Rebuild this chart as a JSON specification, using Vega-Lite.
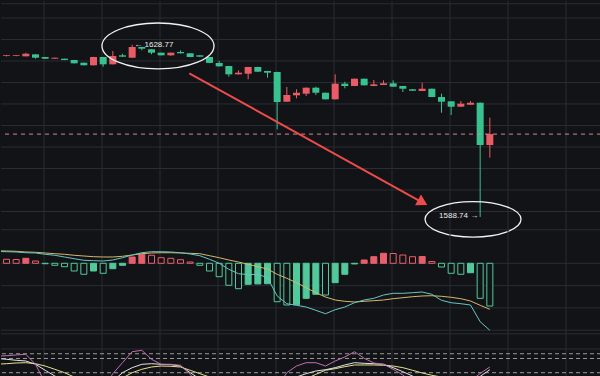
{
  "$schema": "https://vega.github.io/schema/vega-lite/v6.json",
  "background": "#121317",
  "padding": 0,
  "spacing": 0,
  "bounds": "flush",
  "config": {
    "view": {"stroke": null}
  },
  "datasets": {
    "k": [
      {"i":-1,"o":1626.20,"h":1626.40,"l":1626.00,"c":1626.30,"m":0.19,"dif":0.530,"dea":0.560,"k":80.0,"d":68.0,"j":85.0},
      {"i":0,"o":1626.16,"h":1626.40,"l":1626.05,"c":1626.32,"m":0.179,"dif":0.520,"dea":0.552,"k":78.3,"d":69.0,"j":85.9},
      {"i":1,"o":1626.16,"h":1626.35,"l":1626.10,"c":1626.32,"m":0.170,"dif":0.507,"dea":0.538,"k":76.2,"d":70.5,"j":87.4},
      {"i":2,"o":1626.09,"h":1626.93,"l":1626.05,"c":1626.69,"m":0.224,"dif":0.475,"dea":0.507,"k":74.7,"d":71.1,"j":88.8},
      {"i":3,"o":1626.55,"h":1626.60,"l":1625.53,"c":1625.76,"m":0.103,"dif":0.462,"dea":0.493,"k":67.7,"d":69.0,"j":67.7},
      {"i":4,"o":1625.93,"h":1625.95,"l":1625.50,"c":1625.53,"m":-0.020,"dif":0.404,"dea":0.462,"k":55.1,"d":64.1,"j":28.3},
      {"i":5,"o":1625.53,"h":1625.80,"l":1625.50,"c":1625.76,"m":-0.090,"dif":0.359,"dea":0.430,"k":43.0,"d":57.2,"j":7.2},
      {"i":6,"o":1625.53,"h":1625.55,"l":1625.20,"c":1625.23,"m":-0.152,"dif":0.283,"dea":0.404,"k":32.5,"d":50.0,"j":-5.5},
      {"i":7,"o":1625.23,"h":1625.25,"l":1624.43,"c":1624.46,"m":-0.345,"dif":0.206,"dea":0.359,"k":24.1,"d":40.9,"j":-9.7},
      {"i":8,"o":1624.60,"h":1624.62,"l":1623.97,"c":1624.00,"m":-0.493,"dif":0.135,"dea":0.327,"k":19.8,"d":32.5,"j":-13.9},
      {"i":9,"o":1624.00,"h":1625.95,"l":1623.97,"c":1625.93,"m":-0.345,"dif":0.117,"dea":0.296,"k":19.8,"d":28.3,"j":-5.5},
      {"i":10,"o":1625.93,"h":1625.95,"l":1623.67,"c":1624.23,"m":-0.448,"dif":0.103,"dea":0.283,"k":24.1,"d":26.2,"j":15.6},
      {"i":11,"o":1624.23,"h":1627.32,"l":1624.20,"c":1626.16,"m":-0.242,"dif":0.148,"dea":0.283,"k":32.5,"d":30.4,"j":47.9},
      {"i":12,"o":1626.32,"h":1626.69,"l":1625.97,"c":1626.00,"m":-0.090,"dif":0.251,"dea":0.314,"k":50.0,"d":38.8,"j":71.1},
      {"i":13,"o":1625.76,"h":1628.77,"l":1625.73,"c":1628.25,"m":0.283,"dif":0.372,"dea":0.372,"k":60.6,"d":50.0,"j":94.3},
      {"i":14,"o":1628.25,"h":1628.30,"l":1627.48,"c":1627.86,"m":0.404,"dif":0.475,"dea":0.430,"k":67.7,"d":57.2,"j":97.3},
      {"i":15,"o":1627.72,"h":1627.75,"l":1626.55,"c":1626.93,"m":0.359,"dif":0.520,"dea":0.462,"k":69.0,"d":62.0,"j":78.3},
      {"i":16,"o":1626.93,"h":1626.95,"l":1626.30,"c":1626.32,"m":0.251,"dif":0.520,"dea":0.475,"k":67.7,"d":64.1,"j":67.7},
      {"i":17,"o":1626.32,"h":1626.95,"l":1626.20,"c":1626.93,"m":0.224,"dif":0.507,"dea":0.475,"k":66.9,"d":63.5,"j":67.7},
      {"i":18,"o":1627.09,"h":1627.48,"l":1626.75,"c":1626.79,"m":0.161,"dif":0.475,"dea":0.462,"k":64.1,"d":62.0,"j":65.6},
      {"i":19,"o":1626.79,"h":1626.80,"l":1625.90,"c":1625.93,"m":0.058,"dif":0.417,"dea":0.448,"k":50.0,"d":55.1,"j":46.6},
      {"i":20,"o":1626.32,"h":1626.35,"l":1625.95,"c":1626.00,"m":-0.090,"dif":0.341,"dea":0.430,"k":36.7,"d":47.9,"j":21.9},
      {"i":21,"o":1625.93,"h":1625.95,"l":1624.50,"c":1624.55,"m":-0.345,"dif":0.179,"dea":0.341,"k":24.1,"d":40.9,"j":0.8},
      {"i":22,"o":1624.53,"h":1625.00,"l":1623.70,"c":1623.76,"m":-0.601,"dif":0.000,"dea":0.251,"k":13.5,"d":32.5,"j":-13.9},
      {"i":23,"o":1623.83,"h":1623.85,"l":1621.35,"c":1621.90,"m":-0.987,"dif":-0.269,"dea":0.148,"k":7.2,"d":24.1,"j":-20.3},
      {"i":24,"o":1621.90,"h":1622.83,"l":1621.85,"c":1622.28,"m":-1.139,"dif":-0.466,"dea":0.058,"k":5.1,"d":17.7,"j":-18.1},
      {"i":25,"o":1622.04,"h":1623.65,"l":1620.74,"c":1623.60,"m":-0.942,"dif":-0.511,"dea":-0.045,"k":7.2,"d":15.6,"j":-9.7},
      {"i":26,"o":1623.60,"h":1623.65,"l":1622.45,"c":1622.51,"m":-0.925,"dif":-0.493,"dea":-0.152,"k":11.4,"d":15.6,"j":-1.3},
      {"i":27,"o":1622.67,"h":1622.70,"l":1621.11,"c":1622.28,"m":-0.915,"dif":-0.646,"dea":-0.256,"k":15.6,"d":15.6,"j":7.2},
      {"i":28,"o":1622.44,"h":1622.50,"l":1609.11,"c":1615.46,"m":-1.722,"dif":-1.466,"dea":-0.493,"k":19.8,"d":17.7,"j":19.8},
      {"i":29,"o":1615.53,"h":1618.95,"l":1615.50,"c":1617.09,"m":-1.870,"dif":-1.812,"dea":-0.673,"k":32.5,"d":21.9,"j":50.0},
      {"i":30,"o":1617.02,"h":1618.42,"l":1616.32,"c":1617.62,"m":-1.861,"dif":-1.883,"dea":-0.870,"k":40.9,"d":28.3,"j":64.1},
      {"i":31,"o":1617.39,"h":1618.85,"l":1616.86,"c":1618.79,"m":-1.570,"dif":-1.960,"dea":-1.094,"k":47.9,"d":36.7,"j":71.1},
      {"i":32,"o":1618.79,"h":1619.02,"l":1617.09,"c":1617.62,"m":-1.390,"dif":-2.108,"dea":-1.318,"k":53.6,"d":46.6,"j":71.1},
      {"i":33,"o":1617.62,"h":1617.65,"l":1616.05,"c":1616.09,"m":-1.422,"dif":-2.260,"dea":-1.511,"k":56.3,"d":55.1,"j":64.1},
      {"i":34,"o":1616.09,"h":1621.90,"l":1616.05,"c":1619.72,"m":-0.870,"dif":-2.081,"dea":-1.646,"k":60.6,"d":58.5,"j":74.7},
      {"i":35,"o":1619.72,"h":1620.18,"l":1618.65,"c":1619.18,"m":-0.493,"dif":-1.960,"dea":-1.704,"k":66.3,"d":62.7,"j":83.1},
      {"i":36,"o":1619.18,"h":1620.90,"l":1619.15,"c":1620.88,"m":-0.030,"dif":-1.767,"dea":-1.735,"k":71.1,"d":66.3,"j":94.3},
      {"i":37,"o":1620.88,"h":1620.90,"l":1619.30,"c":1619.35,"m":0.148,"dif":-1.646,"dea":-1.704,"k":69.8,"d":66.3,"j":80.4},
      {"i":38,"o":1619.18,"h":1620.58,"l":1619.15,"c":1619.58,"m":0.296,"dif":-1.570,"dea":-1.677,"k":69.0,"d":66.3,"j":70.5},
      {"i":39,"o":1619.42,"h":1620.50,"l":1619.40,"c":1619.81,"m":0.448,"dif":-1.422,"dea":-1.646,"k":67.7,"d":65.6,"j":67.7},
      {"i":40,"o":1619.81,"h":1620.50,"l":1619.00,"c":1619.02,"m":0.440,"dif":-1.345,"dea":-1.587,"k":60.6,"d":64.1,"j":57.2},
      {"i":41,"o":1619.18,"h":1619.20,"l":1617.79,"c":1618.55,"m":0.372,"dif":-1.345,"dea":-1.543,"k":52.1,"d":60.6,"j":45.2},
      {"i":42,"o":1618.42,"h":1618.45,"l":1618.05,"c":1618.09,"m":0.296,"dif":-1.318,"dea":-1.498,"k":43.0,"d":55.1,"j":28.3},
      {"i":43,"o":1618.02,"h":1619.95,"l":1618.00,"c":1618.55,"m":0.305,"dif":-1.287,"dea":-1.466,"k":32.5,"d":49.4,"j":11.4},
      {"i":44,"o":1618.55,"h":1618.60,"l":1616.60,"c":1616.63,"m":0.081,"dif":-1.390,"dea":-1.453,"k":24.1,"d":44.5,"j":-1.3},
      {"i":45,"o":1616.63,"h":1617.39,"l":1612.97,"c":1615.53,"m":-0.166,"dif":-1.659,"dea":-1.480,"k":17.7,"d":40.9,"j":-9.7},
      {"i":46,"o":1615.62,"h":1615.65,"l":1612.44,"c":1614.37,"m":-0.448,"dif":-1.767,"dea":-1.525,"k":15.6,"d":36.7,"j":-5.5},
      {"i":47,"o":1614.37,"h":1615.69,"l":1614.30,"c":1615.07,"m":-0.493,"dif":-1.812,"dea":-1.587,"k":17.0,"d":34.6,"j":7.2},
      {"i":48,"o":1614.83,"h":1615.69,"l":1614.80,"c":1615.30,"m":-0.422,"dif":-1.870,"dea":-1.691,"k":22.0,"d":32.5,"j":32.5},
      {"i":49,"o":1615.30,"h":1615.35,"l":1588.74,"c":1605.46,"m":-1.570,"dif":-2.619,"dea":-1.883,"k":42.2,"d":34.6,"j":48.3},
      {"i":50,"o":1605.46,"h":1611.81,"l":1602.51,"c":1608.00,"m":-1.915,"dif":-3.004,"dea":-2.063,"k":56.3,"d":36.7,"j":62.0}
    ],
    "one": [{}],
    "gx": [{"v":3.88},{"v":9.88},{"v":15.88},{"v":21.88},{"v":27.88},{"v":33.88},{"v":39.88},{"v":45.88},{"v":51.88},{"v":57.88}],
    "gyp": [{"v":1585.75},{"v":1590},{"v":1595},{"v":1600},{"v":1605},{"v":1610},{"v":1615},{"v":1620},{"v":1625},{"v":1630},{"v":1635},{"v":1638.3}],
    "gym": [{"v":0},{"v":-1},{"v":-2},{"v":-3},{"v":-3.16}],
    "gyk": [{"v":100}]
  },
  "vconcat": [
    {
      "width": 600,
      "height": 229,
      "layer": [
        {
          "data": {"name": "gx"},
          "mark": {"type": "rule", "color": "#2a2d33", "strokeWidth": 1},
          "encoding": {
            "x": {"field": "v", "type": "quantitative", "title": null, "scale": {"domain": [-0.569, 61.5], "nice": false, "zero": false, "padding": 0}, "axis": null}
          }
        },
        {
          "data": {"name": "gyp"},
          "mark": {"type": "rule", "color": "#2a2d33", "strokeWidth": 1},
          "encoding": {
            "y": {"field": "v", "type": "quantitative", "title": null, "scale": {"domain": [1585.7, 1638.95], "nice": false, "zero": false}, "axis": null}
          }
        },
        {
          "data": {"name": "k"},
          "mark": {"type": "rule", "strokeWidth": 1, "clip": true},
          "encoding": {
            "x": {"field": "i", "type": "quantitative", "title": null, "scale": {"domain": [-0.569, 61.5], "nice": false, "zero": false, "padding": 0}, "axis": null},
            "y": {"field": "l", "type": "quantitative", "title": null, "scale": {"domain": [1585.7, 1638.95], "nice": false, "zero": false}, "axis": null},
            "y2": {"field": "h"},
            "color": {"condition": {"test": "datum.c >= datum.o", "value": "#ea5c65"}, "value": "#38c28f"}
          }
        },
        {
          "data": {"name": "k"},
          "mark": {"type": "bar", "width": 7, "clip": true},
          "encoding": {
            "x": {"field": "i", "type": "quantitative", "title": null, "scale": {"domain": [-0.569, 61.5], "nice": false, "zero": false, "padding": 0}, "axis": null},
            "y": {"field": "o", "type": "quantitative", "title": null, "scale": {"domain": [1585.7, 1638.95], "nice": false, "zero": false}, "axis": null},
            "y2": {"field": "c"},
            "color": {"condition": {"test": "datum.c >= datum.o", "value": "#ea5c65"}, "value": "#38c28f"}
          }
        },
        {
          "data": {"name": "one"},
          "mark": {"type": "rule", "color": "#d98c8c", "strokeDash": [4, 4], "strokeWidth": 1},
          "encoding": {
            "y": {"datum": 1608.0, "type": "quantitative", "scale": {"domain": [1585.7, 1638.95], "nice": false, "zero": false}, "axis": null}
          }
        },
        {
          "data": {"name": "one"},
          "mark": {"type": "point", "shape": "M-1,0C-1,-0.2264,-0.5523,-0.41,0,-0.41C0.5523,-0.41,1,-0.2264,1,0C1,0.2264,0.5523,0.41,0,0.41C-0.5523,0.41,-1,0.2264,-1,0Z", "size": 12544, "filled": false, "stroke": "#f2f2f2", "strokeWidth": 1.3, "opacity": 1},
          "encoding": {
            "x": {"datum": 15.67, "type": "quantitative", "scale": {"domain": [-0.569, 61.5], "nice": false, "zero": false, "padding": 0}, "axis": null},
            "y": {"datum": 1628.49, "type": "quantitative", "scale": {"domain": [1585.7, 1638.95], "nice": false, "zero": false}, "axis": null}
          }
        },
        {
          "data": {"name": "one"},
          "mark": {"type": "point", "shape": "M-1,0C-1,-0.2044,-0.5523,-0.37,0,-0.37C0.5523,-0.37,1,-0.2044,1,0C1,0.2044,0.5523,0.37,0,0.37C-0.5523,0.37,-1,0.2044,-1,0Z", "size": 9216, "filled": false, "stroke": "#f2f2f2", "strokeWidth": 1.3, "opacity": 1},
          "encoding": {
            "x": {"datum": 48.26, "type": "quantitative", "scale": {"domain": [-0.569, 61.5], "nice": false, "zero": false, "padding": 0}, "axis": null},
            "y": {"datum": 1588.18, "type": "quantitative", "scale": {"domain": [1585.7, 1638.95], "nice": false, "zero": false}, "axis": null}
          }
        },
        {
          "data": {"name": "one"},
          "mark": {"type": "text", "text": "← 1628.77", "align": "left", "baseline": "middle", "font": "Liberation Sans", "fontSize": 8, "color": "#ececec"},
          "encoding": {
            "x": {"datum": 13.22, "type": "quantitative", "scale": {"domain": [-0.569, 61.5], "nice": false, "zero": false, "padding": 0}, "axis": null},
            "y": {"datum": 1628.77, "type": "quantitative", "scale": {"domain": [1585.7, 1638.95], "nice": false, "zero": false}, "axis": null}
          }
        },
        {
          "data": {"name": "one"},
          "mark": {"type": "text", "text": "1588.74 →", "align": "right", "baseline": "middle", "font": "Liberation Sans", "fontSize": 8, "color": "#ececec"},
          "encoding": {
            "x": {"datum": 48.8, "type": "quantitative", "scale": {"domain": [-0.569, 61.5], "nice": false, "zero": false, "padding": 0}, "axis": null},
            "y": {"datum": 1588.85, "type": "quantitative", "scale": {"domain": [1585.7, 1638.95], "nice": false, "zero": false}, "axis": null}
          }
        },
        {
          "data": {"name": "one"},
          "mark": {"type": "rule", "color": "#ee4b4b", "strokeWidth": 2},
          "encoding": {
            "x": {"datum": 18.91, "type": "quantitative", "scale": {"domain": [-0.569, 61.5], "nice": false, "zero": false, "padding": 0}, "axis": null},
            "y": {"datum": 1622.14, "type": "quantitative", "scale": {"domain": [1585.7, 1638.95], "nice": false, "zero": false}, "axis": null},
            "x2": {"datum": 43.05},
            "y2": {"datum": 1592.09}
          }
        },
        {
          "data": {"name": "one"},
          "mark": {"type": "point", "shape": "triangle-right", "size": 150, "filled": true, "color": "#ee4b4b", "angle": 29, "opacity": 1},
          "encoding": {
            "x": {"datum": 43.05, "type": "quantitative", "scale": {"domain": [-0.569, 61.5], "nice": false, "zero": false, "padding": 0}, "axis": null},
            "y": {"datum": 1592.09, "type": "quantitative", "scale": {"domain": [1585.7, 1638.95], "nice": false, "zero": false}, "axis": null}
          }
        }
      ]
    },
    {
      "width": 600,
      "height": 104,
      "layer": [
        {
          "data": {"name": "gx"},
          "mark": {"type": "rule", "color": "#2a2d33", "strokeWidth": 1},
          "encoding": {
            "x": {"field": "v", "type": "quantitative", "title": null, "scale": {"domain": [-0.569, 61.5], "nice": false, "zero": false, "padding": 0}, "axis": null}
          }
        },
        {
          "data": {"name": "gym"},
          "mark": {"type": "rule", "color": "#2a2d33", "strokeWidth": 1},
          "encoding": {
            "y": {"field": "v", "type": "quantitative", "title": null, "scale": {"domain": [-3.17, 1.493], "nice": false, "zero": false}, "axis": null}
          }
        },
        {
          "data": {"name": "k"},
          "transform": [{"window": [{"op": "lag", "field": "m", "as": "pm"}], "sort": [{"field": "i", "order": "ascending"}]}],
          "mark": {"type": "bar", "width": 6, "strokeWidth": 1, "clip": true},
          "encoding": {
            "x": {"field": "i", "type": "quantitative", "title": null, "scale": {"domain": [-0.569, 61.5], "nice": false, "zero": false, "padding": 0}, "axis": null},
            "y": {"field": "m", "type": "quantitative", "title": null, "scale": {"domain": [-3.17, 1.493], "nice": false, "zero": false}, "axis": null},
            "y2": {"datum": 0},
            "fill": {"condition": [{"test": "datum.pm != null && datum.m > datum.pm && datum.m >= 0", "value": "#e85f6b"}, {"test": "datum.pm != null && datum.m > datum.pm", "value": "#52c99a"}], "value": "#121317"},
            "stroke": {"condition": {"test": "datum.m >= 0", "value": "#e85f6b"}, "value": "#52c99a"}
          }
        },
        {
          "data": {"name": "k"},
          "mark": {"type": "line", "color": "#d6b86c", "strokeWidth": 1, "clip": true},
          "encoding": {
            "x": {"field": "i", "type": "quantitative", "title": null, "scale": {"domain": [-0.569, 61.5], "nice": false, "zero": false, "padding": 0}, "axis": null},
            "y": {"field": "dea", "type": "quantitative", "title": null, "scale": {"domain": [-3.17, 1.493], "nice": false, "zero": false}, "axis": null}
          }
        },
        {
          "data": {"name": "k"},
          "mark": {"type": "line", "color": "#65c7c2", "strokeWidth": 1, "clip": true},
          "encoding": {
            "x": {"field": "i", "type": "quantitative", "title": null, "scale": {"domain": [-0.569, 61.5], "nice": false, "zero": false, "padding": 0}, "axis": null},
            "y": {"field": "dif", "type": "quantitative", "title": null, "scale": {"domain": [-3.17, 1.493], "nice": false, "zero": false}, "axis": null}
          }
        }
      ]
    },
    {
      "width": 600,
      "height": 43,
      "layer": [
        {
          "data": {"name": "gx"},
          "mark": {"type": "rule", "color": "#2a2d33", "strokeWidth": 1},
          "encoding": {
            "x": {"field": "v", "type": "quantitative", "title": null, "scale": {"domain": [-0.569, 61.5], "nice": false, "zero": false, "padding": 0}, "axis": null}
          }
        },
        {
          "data": {"name": "gyk"},
          "mark": {"type": "rule", "color": "#2a2d33", "strokeWidth": 1},
          "encoding": {
            "y": {"field": "v", "type": "quantitative", "title": null, "scale": {"domain": [40.9, 131.7], "nice": false, "zero": false}, "axis": null}
          }
        },
        {
          "data": {"name": "one"},
          "mark": {"type": "rule", "color": "#9a9a9a", "strokeDash": [4, 3], "strokeWidth": 1},
          "encoding": {"y": {"datum": 90, "type": "quantitative", "scale": {"domain": [40.9, 131.7], "nice": false, "zero": false}, "axis": null}}
        },
        {
          "data": {"name": "one"},
          "mark": {"type": "rule", "color": "#9a9a9a", "strokeDash": [4, 3], "strokeWidth": 1},
          "encoding": {"y": {"datum": 80, "type": "quantitative", "scale": {"domain": [40.9, 131.7], "nice": false, "zero": false}, "axis": null}}
        },
        {
          "data": {"name": "one"},
          "mark": {"type": "rule", "color": "#9a9a9a", "strokeDash": [4, 3], "strokeWidth": 1},
          "encoding": {"y": {"datum": 50, "type": "quantitative", "scale": {"domain": [40.9, 131.7], "nice": false, "zero": false}, "axis": null}}
        },
        {
          "data": {"name": "k"},
          "mark": {"type": "line", "color": "#e6df8c", "strokeWidth": 1, "clip": true},
          "encoding": {
            "x": {"field": "i", "type": "quantitative", "title": null, "scale": {"domain": [-0.569, 61.5], "nice": false, "zero": false, "padding": 0}, "axis": null},
            "y": {"field": "d", "type": "quantitative", "title": null, "scale": {"domain": [40.9, 131.7], "nice": false, "zero": false}, "axis": null}
          }
        },
        {
          "data": {"name": "k"},
          "mark": {"type": "line", "color": "#e4e4e4", "strokeWidth": 1, "clip": true},
          "encoding": {
            "x": {"field": "i", "type": "quantitative", "title": null, "scale": {"domain": [-0.569, 61.5], "nice": false, "zero": false, "padding": 0}, "axis": null},
            "y": {"field": "k", "type": "quantitative", "title": null, "scale": {"domain": [40.9, 131.7], "nice": false, "zero": false}, "axis": null}
          }
        },
        {
          "data": {"name": "k"},
          "mark": {"type": "line", "color": "#c070b0", "strokeWidth": 1, "clip": true},
          "encoding": {
            "x": {"field": "i", "type": "quantitative", "title": null, "scale": {"domain": [-0.569, 61.5], "nice": false, "zero": false, "padding": 0}, "axis": null},
            "y": {"field": "j", "type": "quantitative", "title": null, "scale": {"domain": [40.9, 131.7], "nice": false, "zero": false}, "axis": null}
          }
        }
      ]
    }
  ]
}
